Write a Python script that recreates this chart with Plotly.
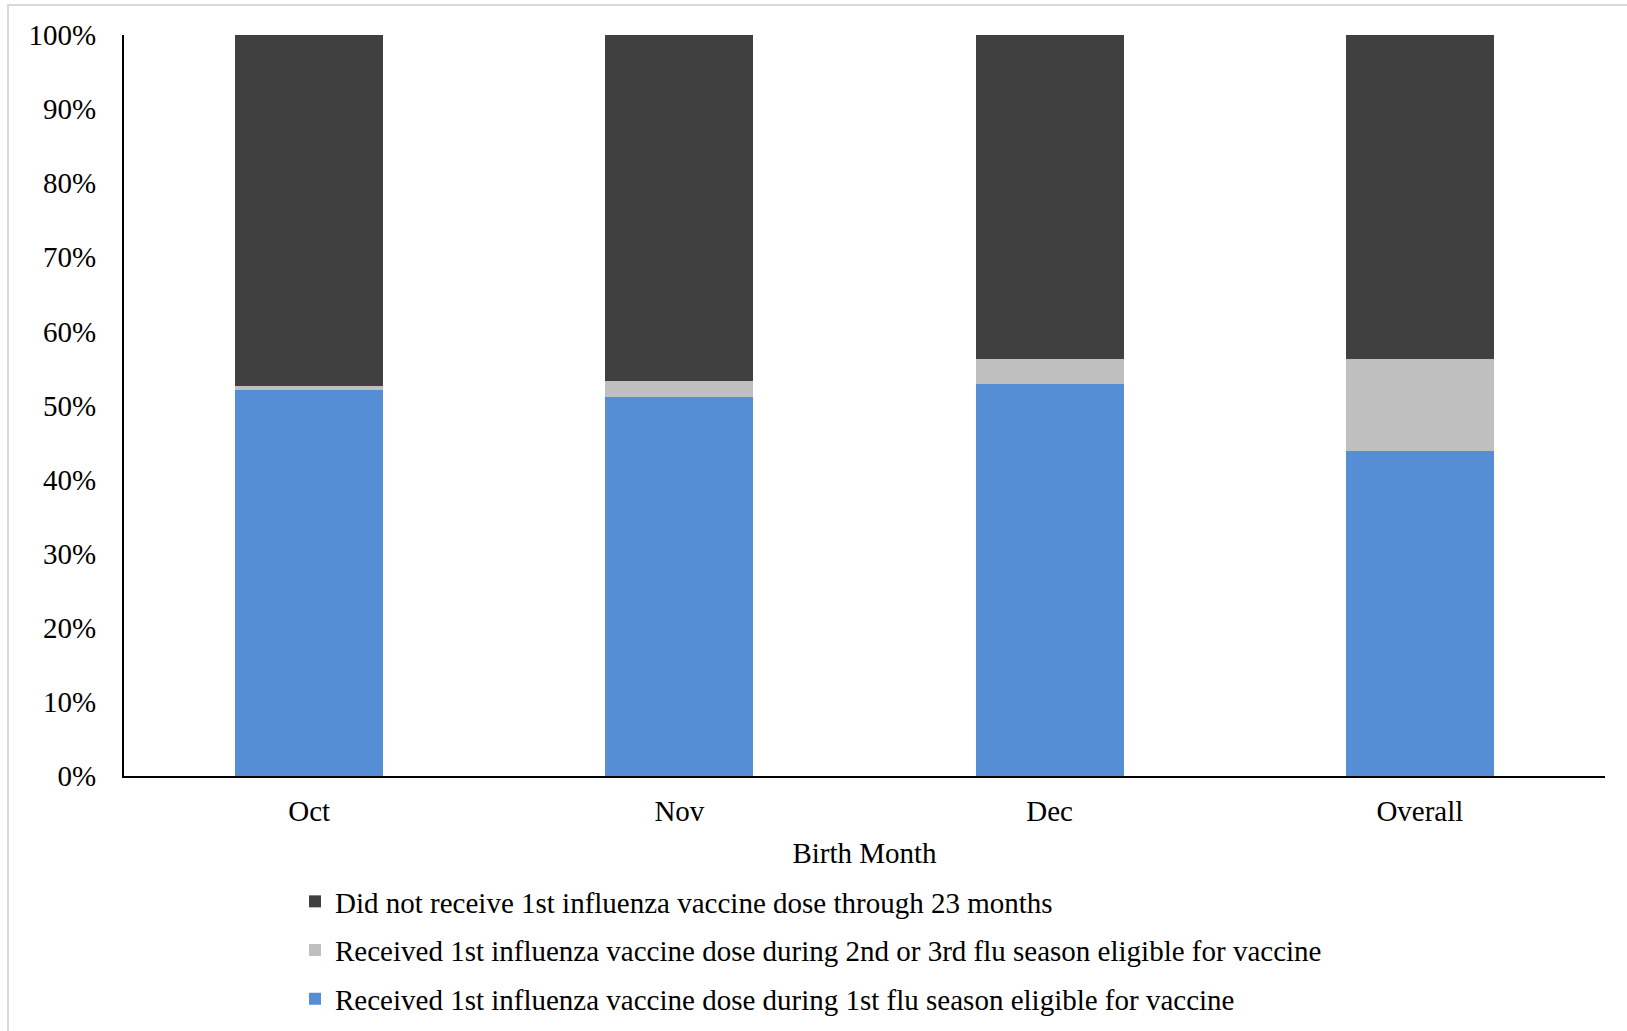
import plotly.graph_objects as go

categories = ["Oct", "Nov", "Dec", "Overall"]
first_season = [52.1, 51.2, 52.9, 43.8]
later_season = [0.5, 2.1, 3.4, 12.5]
not_received = [47.4, 46.7, 43.7, 43.7]

names = [
    "Received 1st influenza vaccine dose during 1st flu season eligible for vaccine",
    "Received 1st influenza vaccine dose during 2nd or 3rd flu season eligible for vaccine",
    "Did not receive 1st influenza vaccine dose through 23 months",
]
colors = ["#558ED5", "#BFBFBF", "#404040"]
series = [first_season, later_season, not_received]
ranks = [3, 2, 1]

FONT = "Liberation Serif, Times New Roman, serif"
FS = 29

fig = go.Figure()
for i, (name, vals, col) in enumerate(zip(names, series, colors)):
    fig.add_trace(go.Bar(
        x=categories, y=vals, name=name, legendgroup=f"g{i}", legendrank=ranks[i],
        marker=dict(color=col, line=dict(width=0)),
        width=0.4,
    ))

W, H = 1627, 1031
L, R, T, B = 124, 22, 35, 255
pw = W - L - R
ph = H - T - B

fig.update_layout(
    width=W, height=H,
    barmode="stack",
    margin=dict(l=L, r=R, t=T, b=B, autoexpand=False),
    paper_bgcolor="white", plot_bgcolor="white",
    font=dict(family=FONT, size=FS, color="black"),
    showlegend=True,
    legend=dict(
        orientation="v", traceorder="grouped", tracegroupgap=8,
        x=(295 - L) / pw, xanchor="left",
        y=(T + ph - 876) / ph, yanchor="top",
        font=dict(family=FONT, size=FS, color="black"),
        bgcolor="rgba(0,0,0,0)",
    ),
    xaxis=dict(
        showline=True, linecolor="black", linewidth=2, automargin=False,
        showgrid=False, ticks="", ticklabelstandoff=8,
        tickfont=dict(size=FS),
        title=dict(text="Birth Month", standoff=17, font=dict(size=FS)),
    ),
    yaxis=dict(
        range=[0, 100], tickvals=list(range(0, 101, 10)),
        ticktext=[f"{v}%" for v in range(0, 101, 10)],
        showline=True, linecolor="black", linewidth=2, automargin=False,
        showgrid=False, ticks="", zeroline=False, ticklabelstandoff=20,
        tickfont=dict(size=FS),
    ),
    shapes=[dict(
        type="rect", xref="paper", yref="paper",
        x0=(8 - L) / pw, x1=(1700 - L) / pw,
        y0=(T + ph - 1100) / ph, y1=(T + ph - 5) / ph,
        line=dict(color="#D9D9D9", width=2), fillcolor="rgba(0,0,0,0)", layer="below",
    )],
)

fig.write_html("out.html")
